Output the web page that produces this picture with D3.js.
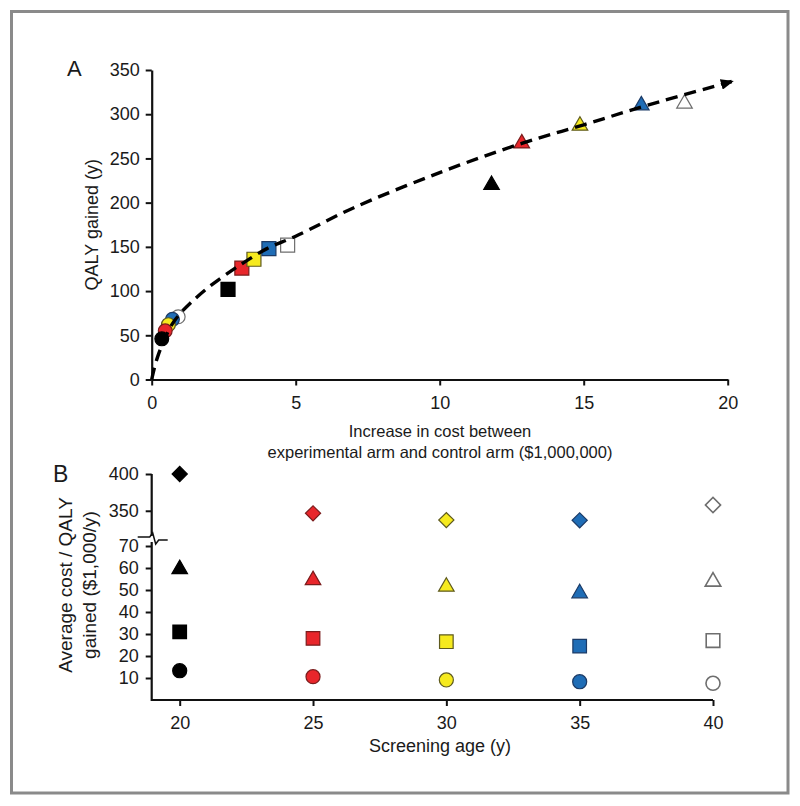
<!DOCTYPE html>
<html><head><meta charset="utf-8">
<script src="https://cdn.jsdelivr.net/npm/d3@7"></script>
<style>
html,body{margin:0;padding:0;background:#fff;}
text{font-family:"Liberation Sans",Arial,Helvetica,sans-serif;fill:#1a1a1a;}
</style></head>
<body>
<svg id="chart" width="800" height="806"></svg>
<script>
// ---------- DATA ----------
const ages = [20, 25, 30, 35, 40];
// Panel A: increase in cost ($1,000,000) vs QALY gained (y)
const costCircle   = [0.35, 0.47, 0.58, 0.72, 0.92];
const qalyCircle   = [46, 55, 62, 68, 71];
const costSquare   = [2.65, 3.13, 3.55, 4.07, 4.72];
const qalySquare   = [102, 126, 136, 148, 152];
const costTriangle = [11.8, 12.85, 14.87, 17.0, 18.5];
const qalyTriangle = [220, 267, 287, 310, 312];
// dashed trend
const trendCost = [0, 0.1, 0.22, 0.4, 0.7, 1.0, 1.33, 2, 3, 4, 5, 7, 10, 12.85, 15, 17.2, 20.14];
const trendQaly = [0, 14, 27, 42, 62, 75, 86, 105, 128, 148, 162, 194, 234, 267, 288, 310, 337];
// Panel B: average cost / QALY gained ($1,000/y)
const cerCircle   = [13.3, 10.6, 9.1, 8.3, 7.6];
const cerSquare   = [31, 28, 26.5, 24.5, 27];
const cerTriangle = [59.5, 54.5, 51.5, 48.5, 53.8];
const cerDiamond  = [400, 346.5, 337.3, 337, 357.8];
// ticks
const xTicksA = [0, 5, 10, 15, 20];
const yTicksA = [0, 50, 100, 150, 200, 250, 300, 350];
const yTicksBLow = [10, 20, 30, 40, 50, 60, 70];
const yTicksBHigh = [350, 400];

// ---------- STYLE ----------
const fills   = ["#000000", "#e8262b", "#f6ea1e", "#1f6db6", "#ffffff"];
const strokes = ["#000000", "#7a1c1c", "#5e5a1e", "#1b3a66", "#6e6e6e"];

const svg = d3.select("#chart");

svg.append("rect").attr("x", 11.5).attr("y", 11.5).attr("width", 776.5).attr("height", 781.5)
  .attr("fill", "none").attr("stroke", "#8a8a8a").attr("stroke-width", 3);

const defs = svg.append("defs");
defs.append("marker").attr("id", "arrow").attr("markerUnits", "userSpaceOnUse")
  .attr("viewBox", "0 0 12 10").attr("refX", 10).attr("refY", 5)
  .attr("markerWidth", 13).attr("markerHeight", 11).attr("orient", "auto")
  .append("path").attr("d", "M0,0 L12,5 L0,10 Z").attr("fill", "#000");

const sym = (type, size) => d3.symbol().type(type).size(size)();
const styleAxis = (a, fs) => {
  a.selectAll(".tick line").attr("stroke", "#111").attr("stroke-width", 2);
  a.selectAll(".tick text").attr("font-size", fs).attr("fill", "#1a1a1a")
    .style("font-family", '"Liberation Sans",Arial,sans-serif');
};

// ---------- PANEL A ----------
const xA = d3.scaleLinear().domain([0, 20]).range([151.7, 727.7]);
const yA = d3.scaleLinear().domain([0, 350]).range([379.5, 70]);

const gA = svg.append("g");
const axXA = gA.append("g").attr("transform", `translate(0,${yA(0)})`)
  .call(d3.axisBottom(xA).tickValues(xTicksA).tickFormat(d3.format("d")).tickSize(6).tickPadding(11).tickSizeOuter(0));
const axYA = gA.append("g").attr("transform", `translate(${xA(0)},0)`)
  .call(d3.axisLeft(yA).tickValues(yTicksA).tickSize(6).tickPadding(6).tickSizeOuter(0));
[axXA, axYA].forEach(a => {
  a.selectAll("path.domain").attr("stroke", "#111").attr("stroke-width", 2.2);
  styleAxis(a, 18);
});

gA.append("text").attr("x", 67).attr("y", 76).attr("font-size", 22).text("A");
gA.append("text").attr("transform", `translate(98,${yA(175)}) rotate(-90)`)
  .attr("text-anchor", "middle").attr("font-size", 18).text("QALY gained (y)");
gA.append("text").attr("x", 440).attr("y", 437).attr("text-anchor", "middle").attr("font-size", 16.5)
  .text("Increase in cost between");
gA.append("text").attr("x", 440).attr("y", 458).attr("text-anchor", "middle").attr("font-size", 16.5)
  .text("experimental arm and control arm ($1,000,000)");

const idx = [0, 1, 2, 3, 4];
gA.selectAll("path.circA").data(idx.slice().reverse()).join("path")
  .attr("transform", i => `translate(${xA(costCircle[i])},${yA(qalyCircle[i])})`)
  .attr("d", sym(d3.symbolCircle, 150))
  .attr("fill", i => fills[i]).attr("stroke", i => strokes[i]).attr("stroke-width", 1.2);
gA.selectAll("path.sqA").data(idx).join("path")
  .attr("transform", i => `translate(${xA(costSquare[i])},${yA(qalySquare[i])})`)
  .attr("d", sym(d3.symbolSquare, 196))
  .attr("fill", i => fills[i]).attr("stroke", i => strokes[i]).attr("stroke-width", 1.2);
gA.selectAll("path.triA").data(idx).join("path")
  .attr("transform", i => `translate(${xA(costTriangle[i])},${yA(qalyTriangle[i])})`)
  .attr("d", sym(d3.symbolTriangle, 105))
  .attr("fill", i => fills[i]).attr("stroke", i => strokes[i]).attr("stroke-width", 1.2);

const trend = trendCost.map((c, i) => [c, trendQaly[i]]);
gA.append("path").datum(trend)
  .attr("d", d3.line().x(d => xA(d[0])).y(d => yA(d[1])).curve(d3.curveCatmullRom))
  .attr("fill", "none").attr("stroke", "#000").attr("stroke-width", 3.4)
  .attr("stroke-dasharray", "12,7").attr("marker-end", "url(#arrow)");

// ---------- PANEL B ----------
const xB = d3.scaleLinear().domain([18.95, 40]).range([151.7, 713]);
const yBlow = d3.scaleLinear().domain([0, 70]).range([700, 546]);
const yBhigh = d3.scaleLinear().domain([313, 400]).range([538, 474]);

const gB = svg.append("g");
const axXB = gB.append("g").attr("transform", "translate(0,700)")
  .call(d3.axisBottom(xB).tickValues(ages).tickSize(6).tickPadding(10).tickSizeOuter(0));
const axYBl = gB.append("g").attr("transform", `translate(${xB(18.95)},0)`)
  .call(d3.axisLeft(yBlow).tickValues(yTicksBLow).tickSize(6).tickPadding(7).tickSizeOuter(0));
const axYBh = gB.append("g").attr("transform", `translate(${xB(18.95)},0)`)
  .call(d3.axisLeft(yBhigh).tickValues(yTicksBHigh).tickSize(6).tickPadding(7).tickSizeOuter(0));
[axXB, axYBl, axYBh].forEach(a => {
  a.selectAll("path.domain").remove();
  styleAxis(a, 18);
});
const ax0 = xB(18.95);
gB.append("line").attr("x1", ax0).attr("x2", xB(40)).attr("y1", 700).attr("y2", 700)
  .attr("stroke", "#111").attr("stroke-width", 2.2);
gB.append("line").attr("x1", ax0).attr("x2", ax0).attr("y1", 701).attr("y2", 542)
  .attr("stroke", "#111").attr("stroke-width", 2.2);
gB.append("line").attr("x1", ax0).attr("x2", ax0).attr("y1", yBhigh(400)).attr("y2", 536)
  .attr("stroke", "#111").attr("stroke-width", 2.2);
gB.append("path")
  .attr("d", `M${ax0 - 14},537 L${ax0 - 2},537 L${ax0 + 1},533 L${ax0 + 4},544 L${ax0 + 7},540 L${ax0 + 16},540`)
  .attr("fill", "none").attr("stroke", "#111").attr("stroke-width", 1.5);

gB.append("text").attr("x", 53).attr("y", 482).attr("font-size", 23).text("B");
gB.append("text").attr("transform", `translate(72,585) rotate(-90)`)
  .attr("text-anchor", "middle").attr("font-size", 19).text("Average cost / QALY");
gB.append("text").attr("transform", `translate(96,585) rotate(-90)`)
  .attr("text-anchor", "middle").attr("font-size", 19).text("gained ($1,000/y)");
gB.append("text").attr("x", 440).attr("y", 752).attr("text-anchor", "middle").attr("font-size", 18)
  .text("Screening age (y)");

const diamondPath = sym(d3.symbolSquare, 115);
const rowsB = [
  {vals: cerDiamond, scale: yBhigh, d: diamondPath, rot: 45},
  {vals: cerTriangle, scale: yBlow, d: sym(d3.symbolTriangle, 105), rot: 0},
  {vals: cerSquare, scale: yBlow, d: sym(d3.symbolSquare, 185), rot: 0},
  {vals: cerCircle, scale: yBlow, d: sym(d3.symbolCircle, 155), rot: 0}
];
rowsB.forEach(r => {
  gB.selectAll(null).data(idx).join("path")
    .attr("transform", i => `translate(${xB(ages[i])},${r.scale(r.vals[i])}) rotate(${r.rot})`)
    .attr("d", r.d)
    .attr("fill", i => fills[i]).attr("stroke", i => strokes[i]).attr("stroke-width", i => i === 4 ? 1.6 : 1.2);
});
</script>
</body></html>
